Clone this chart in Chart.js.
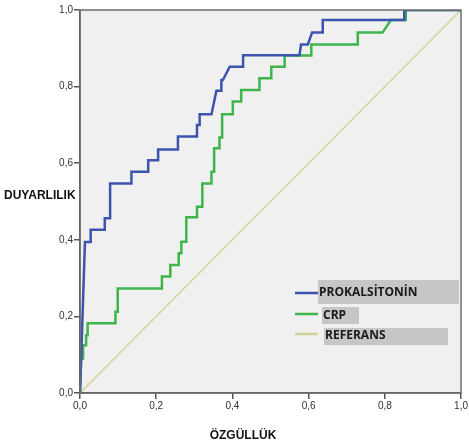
<!DOCTYPE html>
<html>
<head>
<meta charset="utf-8">
<script src="https://cdn.jsdelivr.net/npm/chart.js@4.4.0/dist/chart.umd.min.js"></script>
<style>
  html, body { margin: 0; padding: 0; background: #ffffff; }
  #wrap { width: 469px; height: 445px; }
</style>
</head>
<body>
<div id="wrap"><canvas id="roc"></canvas></div>
<script>
// ROC curves (x = 1 - specificity, y = sensitivity)
const prokalsitoninX = [0, 0.013, 0.028, 0.028, 0.065, 0.065, 0.079, 0.079, 0.135, 0.135, 0.179, 0.179, 0.205, 0.205, 0.257, 0.257, 0.307, 0.307, 0.314, 0.314, 0.345, 0.358, 0.371, 0.371, 0.375, 0.393, 0.428, 0.428, 0.576, 0.580, 0.598, 0.609, 0.637, 0.637, 0.851, 0.851, 1];
const prokalsitoninY = [0, 0.394, 0.394, 0.426, 0.426, 0.456, 0.456, 0.547, 0.547, 0.578, 0.578, 0.608, 0.608, 0.636, 0.636, 0.670, 0.670, 0.700, 0.700, 0.728, 0.728, 0.789, 0.789, 0.817, 0.817, 0.852, 0.852, 0.882, 0.882, 0.910, 0.910, 0.941, 0.941, 0.974, 0.974, 1, 1];

const crpX = [0, 0.003, 0.008, 0.008, 0.016, 0.016, 0.020, 0.020, 0.093, 0.093, 0.099, 0.099, 0.215, 0.215, 0.237, 0.237, 0.259, 0.259, 0.266, 0.266, 0.279, 0.279, 0.307, 0.307, 0.321, 0.321, 0.345, 0.345, 0.352, 0.352, 0.366, 0.366, 0.373, 0.373, 0.401, 0.401, 0.423, 0.423, 0.471, 0.471, 0.502, 0.502, 0.537, 0.537, 0.607, 0.607, 0.729, 0.729, 0.794, 0.816, 0.855, 0.855, 1];
const crpY = [0, 0.090, 0.090, 0.125, 0.125, 0.151, 0.151, 0.182, 0.182, 0.212, 0.212, 0.273, 0.273, 0.304, 0.304, 0.334, 0.334, 0.365, 0.365, 0.395, 0.395, 0.459, 0.459, 0.486, 0.486, 0.547, 0.547, 0.578, 0.578, 0.639, 0.639, 0.667, 0.667, 0.728, 0.728, 0.761, 0.761, 0.791, 0.791, 0.822, 0.822, 0.852, 0.852, 0.881, 0.881, 0.910, 0.910, 0.941, 0.941, 0.974, 0.974, 1, 1];

const referansX = [0, 1];
const referansY = [0, 1];

const tickValues = [0, 0.2, 0.4, 0.6, 0.8, 1.0];
const legendLabels = ['PROKALSİTONİN', 'CRP', 'REFERANS'];

const BLUE = '#3d53ad';
const GREEN = '#3db54a';
const KHAKI = '#d3d396';

function toPoints(xs, ys) {
    return xs.map((x, i) => ({ x: x, y: ys[i] }));
}

function fmt(v) {
    return v.toFixed(1).replace('.', ',');
}

// gray plot background + frame
const plotFrame = {
    id: 'plotFrame',
    beforeDraw(chart) {
        const a = chart.chartArea;
        const ctx = chart.ctx;
        ctx.save();
        ctx.fillStyle = '#f0f0f0';
        ctx.fillRect(a.left, a.top, a.right - a.left, a.bottom - a.top);
        ctx.restore();
    },
    afterDraw(chart) {
        const a = chart.chartArea;
        const ctx = chart.ctx;
        ctx.save();
        ctx.strokeStyle = '#6e6e6e';
        ctx.lineWidth = 1.5;
        ctx.strokeRect(a.left, a.top, a.right - a.left, a.bottom - a.top);
        ctx.restore();
    }
};

// axis titles and the boxed legend like the SPSS output
const extras = {
    id: 'extras',
    afterDraw(chart) {
        const ctx = chart.ctx;
        ctx.save();
        ctx.fillStyle = '#111';
        ctx.font = 'bold 12px "Liberation Sans", Arial, sans-serif';
        ctx.textBaseline = 'middle';
        ctx.textAlign = 'left';
        ctx.fillText('DUYARLILIK', 4, 196);
        ctx.textAlign = 'center';
        ctx.fillText('ÖZGÜLLÜK', 243, 436);

        const colors = [BLUE, GREEN, KHAKI];
        const rows = [
            { y: 293, box: [318, 280, 141, 24], tx: 319 },
            { y: 314, box: [322, 307, 37, 17], tx: 323 },
            { y: 334, box: [324, 328, 124, 17], tx: 325 }
        ];
        ctx.textAlign = 'left';
        ctx.font = 'bold 12px "Open Sans", "DejaVu Sans", sans-serif';
        rows.forEach((r, i) => {
            ctx.fillStyle = '#c6c6c6';
            ctx.fillRect(r.box[0], r.box[1], r.box[2], r.box[3]);
            ctx.strokeStyle = colors[i];
            ctx.lineWidth = 2.5;
            ctx.beginPath();
            ctx.moveTo(295, r.y);
            ctx.lineTo(318, r.y);
            ctx.stroke();
            ctx.fillStyle = '#1a1a1a';
            ctx.fillText(legendLabels[i], r.tx, r.y + (i === 0 ? 0 : 2));
        });
        ctx.restore();
    }
};

const tickFont = { family: '"Liberation Sans", Arial, sans-serif', size: 10 };

new Chart(document.getElementById('roc').getContext('2d'), {
    type: 'scatter',
    data: {
        datasets: [
            {
                label: legendLabels[2],
                data: toPoints(referansX, referansY),
                showLine: true,
                borderColor: KHAKI,
                borderWidth: 1.5,
                pointRadius: 0,
                order: 3
            },
            {
                label: legendLabels[1],
                data: toPoints(crpX, crpY),
                showLine: true,
                borderColor: GREEN,
                borderWidth: 2.5,
                pointRadius: 0,
                order: 2
            },
            {
                label: legendLabels[0],
                data: toPoints(prokalsitoninX, prokalsitoninY),
                showLine: true,
                borderColor: BLUE,
                borderWidth: 2.5,
                pointRadius: 0,
                order: 1
            }
        ]
    },
    options: {
        responsive: true,
        maintainAspectRatio: false,
        animation: false,
        layout: { padding: { top: 10, right: 7, left: 0, bottom: 0 } },
        plugins: {
            legend: { display: false },
            tooltip: { enabled: false }
        },
        scales: {
            x: {
                type: 'linear',
                min: 0,
                max: 1,
                afterFit: s => { s.height = 52; },
                afterBuildTicks: s => { s.ticks = tickValues.map(v => ({ value: v })); },
                ticks: {
                    color: '#333',
                    font: tickFont,
                    padding: 1,
                    callback: v => fmt(v)
                },
                grid: {
                    drawOnChartArea: false,
                    drawTicks: true,
                    tickLength: 6,
                    color: '#555',
                    lineWidth: 1.5
                },
                border: { color: '#555', width: 1.5 }
            },
            y: {
                type: 'linear',
                min: 0,
                max: 1,
                afterFit: s => { s.width = 80; },
                afterBuildTicks: s => { s.ticks = tickValues.map(v => ({ value: v })); },
                ticks: {
                    color: '#333',
                    font: tickFont,
                    padding: 1,
                    callback: v => fmt(v)
                },
                grid: {
                    drawOnChartArea: false,
                    drawTicks: true,
                    tickLength: 6,
                    color: '#555',
                    lineWidth: 1.5
                },
                border: { color: '#555', width: 1.5 }
            }
        }
    },
    plugins: [plotFrame, extras]
});
</script>
</body>
</html>
